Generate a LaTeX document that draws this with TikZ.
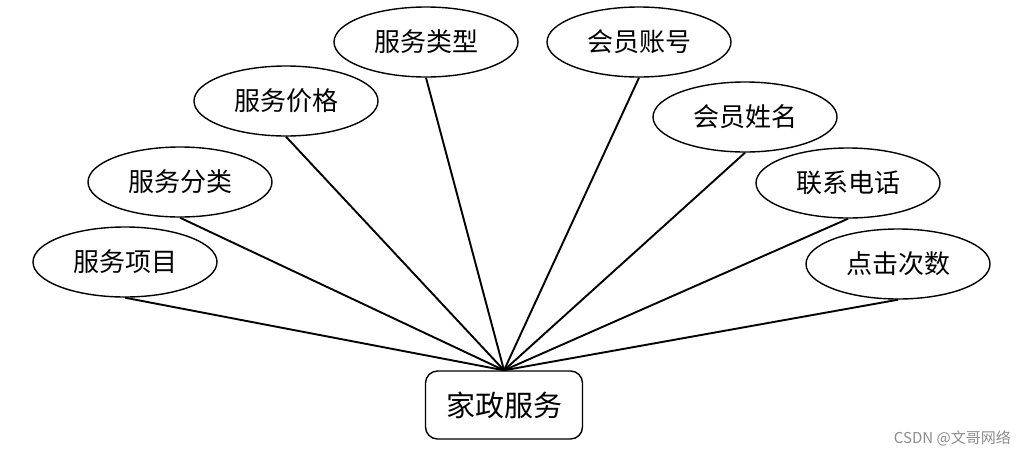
\documentclass[tikz,border=0pt]{standalone}
\usepackage{fontspec}
\newfontfamily\cjk{Noto Sans CJK SC}
\usetikzlibrary{shapes.geometric}
\begin{document}
\begin{tikzpicture}[x=1pt,y=-1pt,
  attr/.style={ellipse,draw,line width=1.4pt,minimum width=184pt,minimum height=70pt,inner sep=0pt,font=\cjk\fontsize{26}{30}\selectfont},
  ent/.style={rectangle,rounded corners=12pt,draw,line width=1.4pt,minimum width=157pt,minimum height=68pt,inner sep=0pt,font=\cjk\fontsize{29}{33}\selectfont},
  link/.style={line width=1.9pt}]
\useasboundingbox (0,0) rectangle (1027,456);
\node[ent] (m) at (504,405) {家政服务};
\node[attr] (a) at (125,262) {服务项目};
\node[attr] (b) at (180,182) {服务分类};
\node[attr] (c) at (286,101) {服务价格};
\node[attr] (d) at (426,42) {服务类型};
\node[attr] (e) at (639,42) {会员账号};
\node[attr] (f) at (745,117) {会员姓名};
\node[attr] (g) at (848,183) {联系电话};
\node[attr] (h) at (898,264) {点击次数};
\foreach \n in {a,b,c,d,e,f,g,h} \draw[link] (\n.south) -- (m.north);
\node[anchor=east,text=black!45,font=\cjk\fontsize{15}{17}\selectfont,inner sep=0pt] (w) at (1011,438) {CSDN @文哥网络};
\end{tikzpicture}
\end{document}
